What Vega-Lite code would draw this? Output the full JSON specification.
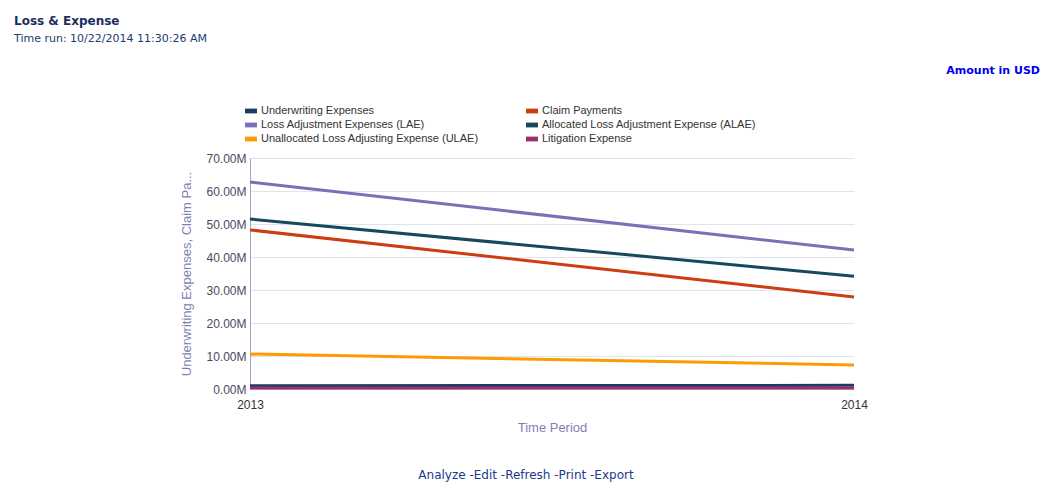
{
  "$schema": "https://vega.github.io/schema/vega-lite/v6.json",
  "autosize": "none",
  "width": 604,
  "height": 231,
  "padding": {"left": 250, "top": 158, "right": 196, "bottom": 94},
  "background": "white",
  "title": {
    "text": "Loss & Expense",
    "subtitle": "Time run: 10/22/2014 11:30:26 AM",
    "anchor": "start",
    "frame": "group",
    "dx": -236,
    "dy": -16,
    "font": "DejaVu Sans",
    "fontSize": 12,
    "fontWeight": "bold",
    "color": "#1c2f5c",
    "subtitleFont": "DejaVu Sans",
    "subtitleFontSize": 11,
    "subtitleColor": "#1c3c6c",
    "subtitlePadding": 5
  },
  "config": {
    "view": {"stroke": null},
    "font": "Liberation Sans",
    "axisX": {
      "labelAngle": 0,
      "ticks": false,
      "labelPadding": 10,
      "labelFontSize": 12,
      "labelColor": "#333333",
      "titleFontSize": 13,
      "titleFontWeight": "normal",
      "titleColor": "#7f7fb5",
      "titlePadding": 11,
      "domainColor": "#c8c8d8",
      "grid": false
    },
    "axisY": {
      "titleLimit": 400,
      "labelOverlap": false,
      "labelFlush": false,
      "labelBound": false,
      "ticks": false,
      "labelPadding": 4,
      "labelFontSize": 12,
      "labelColor": "#4a4a5e",
      "titleFontSize": 13,
      "titleFontWeight": "normal",
      "titleColor": "#7f7fb5",
      "titlePadding": 12,
      "domainColor": "#a0a0c8",
      "gridColor": "#dfe5ee"
    }
  },
  "layer": [
    {
      "data": {
        "values": [
          {"year": "2013", "series": "Underwriting Expenses", "amount": 1000000},
          {"year": "2014", "series": "Underwriting Expenses", "amount": 1100000},
          {"year": "2013", "series": "Claim Payments", "amount": 48200000},
          {"year": "2014", "series": "Claim Payments", "amount": 27900000},
          {"year": "2013", "series": "Loss Adjustment Expenses (LAE)", "amount": 62700000},
          {"year": "2014", "series": "Loss Adjustment Expenses (LAE)", "amount": 42100000},
          {"year": "2013", "series": "Allocated Loss Adjustment Expense (ALAE)", "amount": 51500000},
          {"year": "2014", "series": "Allocated Loss Adjustment Expense (ALAE)", "amount": 34200000},
          {"year": "2013", "series": "Unallocated Loss Adjusting Expense (ULAE)", "amount": 10600000},
          {"year": "2014", "series": "Unallocated Loss Adjusting Expense (ULAE)", "amount": 7300000},
          {"year": "2013", "series": "Litigation Expense", "amount": 300000},
          {"year": "2014", "series": "Litigation Expense", "amount": 300000}
        ]
      },
      "mark": {"type": "line", "strokeWidth": 3},
      "encoding": {
        "x": {
          "field": "year", "type": "ordinal",
          "scale": {"type": "point", "padding": 0},
          "axis": {"title": "Time Period"}
        },
        "y": {
          "field": "amount", "type": "quantitative",
          "scale": {"domain": [0, 70000000], "nice": false},
          "axis": {
            "title": "Underwriting Expenses, Claim Pa...",
            "values": [0, 10000000, 20000000, 30000000, 40000000, 50000000, 60000000, 70000000],
            "labelExpr": "format(datum.value / 1000000, '.2f') + 'M'",
            "labelOverlap": false
          }
        },
        "color": {
          "field": "series", "type": "nominal",
          "scale": {
            "domain": ["Underwriting Expenses", "Loss Adjustment Expenses (LAE)", "Unallocated Loss Adjusting Expense (ULAE)", "Claim Payments", "Allocated Loss Adjustment Expense (ALAE)", "Litigation Expense"],
            "range": ["#1b3a66", "#7a70b8", "#ff9a00", "#cc3d12", "#16495e", "#9b2f6a"]
          },
          "legend": {
            "title": null,
            "orient": "none",
            "legendX": -5,
            "legendY": -53,
            "columns": 2,
            "columnPadding": 47,
            "rowPadding": 3,
            "symbolType": "M-1,-0.4H1V0.4H-1Z",
            "symbolSize": 144,
            "symbolStrokeWidth": 0,
            "labelFontSize": 11,
            "labelColor": "#333333",
            "labelOffset": 4,
            "labelLimit": 400,
            "encode": {
              "symbols": {
                "update": {
                  "fill": {"scale": "color", "field": "value"},
                  "opacity": {"value": 1}
                }
              }
            }
          }
        }
      }
    },
    {
      "data": {"values": [{"note": "Amount in USD"}]},
      "mark": {"type": "text", "x": "width", "y": 0, "align": "right", "baseline": "middle", "dx": 186, "dy": -87, "font": "DejaVu Sans", "fontSize": 11, "fontWeight": "bold", "color": "#0000ee"},
      "encoding": {
        "text": {"field": "note"}
      }
    },
    {
      "data": {"values": [{"note": "Analyze  -Edit  -Refresh  -Print  -Export"}]},
      "mark": {"type": "text", "x": {"expr": "width / 2"}, "y": "height", "align": "center", "baseline": "middle", "dx": -26, "dy": 86, "font": "DejaVu Sans", "fontSize": 12, "color": "#1a3a8a"},
      "encoding": {
        "text": {"field": "note"}
      }
    }
  ]
}
